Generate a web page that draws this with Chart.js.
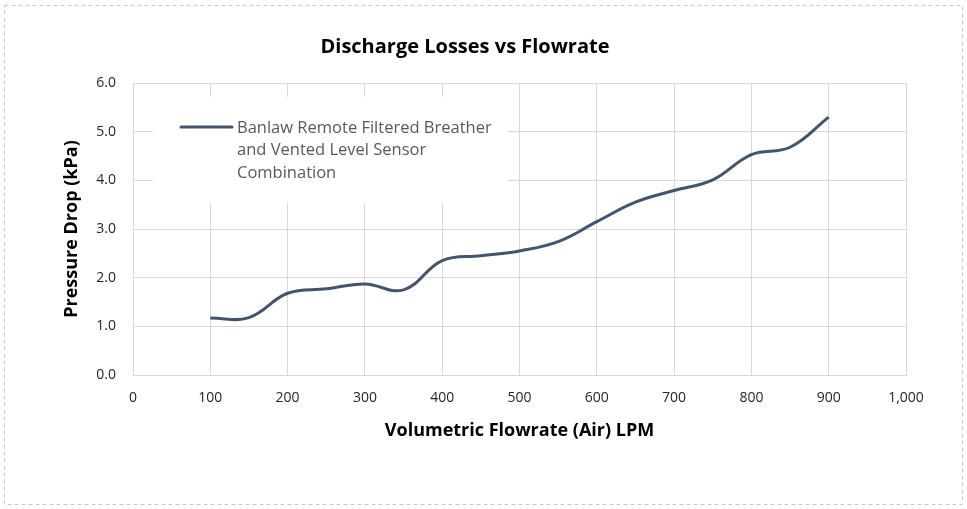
<!DOCTYPE html>
<html>
<head>
<meta charset="utf-8">
<script src="https://cdn.jsdelivr.net/npm/chart.js@4.4.1/dist/chart.umd.min.js"></script>
<style>
  body { margin: 0; background: #fff; }
  #wrap { width: 967px; height: 509px; }
</style>
</head>
<body>
<div id="wrap"><canvas id="chart" width="967" height="509"></canvas></div>
<script>
// chart data
var flowrate = [100, 150, 200, 250, 300, 350, 400, 450, 500, 550, 600, 650, 700, 750, 800, 850, 900];
var pressureDrop = [1.17, 1.18, 1.68, 1.77, 1.87, 1.75, 2.35, 2.45, 2.55, 2.74, 3.15, 3.55, 3.79, 4.01, 4.53, 4.68, 5.30];
var seriesLabelLines = ['Banlaw Remote Filtered Breather', 'and Vented Level Sensor', 'Combination'];
var chartTitle = 'Discharge Losses vs Flowrate';
var xTitle = 'Volumetric Flowrate (Air) LPM';
var yTitle = 'Pressure Drop (kPa)';

var FONT = '"Open Sans", Lato, sans-serif';
var lineColor = '#44546a';
var gridColor = '#d9d9d9';

// outer dashed frame + chart title
var framePlugin = {
  id: 'frame',
  beforeDraw: function (chart) {
    var ctx = chart.ctx;
    ctx.save();
    ctx.fillStyle = '#fff';
    ctx.fillRect(0, 0, chart.width, chart.height);
    ctx.strokeStyle = '#c8c8c8';
    ctx.lineWidth = 1;
    ctx.setLineDash([4, 3]);
    ctx.strokeRect(4.5, 5.5, chart.width - 9, chart.height - 10);
    ctx.restore();
  },
  afterDraw: function (chart) {
    var ctx = chart.ctx;
    ctx.save();
    ctx.font = 'bold 20px ' + FONT;
    ctx.fillStyle = '#000';
    ctx.textAlign = 'center';
    ctx.textBaseline = 'middle';
    ctx.fillText(chartTitle, 465, 47);
    ctx.restore();
  }
};

// legend box sitting inside the plot, covering the grid
var legendPlugin = {
  id: 'boxLegend',
  beforeDatasetsDraw: function (chart) {
    var ctx = chart.ctx;
    var ds = chart.data.datasets[0];
    ctx.save();
    ctx.fillStyle = '#fff';
    ctx.fillRect(153, 97, 355, 106);
    ctx.strokeStyle = ds.borderColor;
    ctx.lineWidth = 3;
    ctx.lineCap = 'round';
    ctx.beginPath();
    ctx.moveTo(181, 127);
    ctx.lineTo(232, 127);
    ctx.stroke();
    ctx.font = '16.5px ' + FONT;
    ctx.fillStyle = '#595959';
    ctx.textBaseline = 'middle';
    seriesLabelLines.forEach(function (t, i) {
      ctx.fillText(t, 237, 128 + i * 22.5);
    });
    ctx.restore();
  }
};

new Chart(document.getElementById('chart'), {
  type: 'line',
  data: {
    datasets: [{
      label: seriesLabelLines.join(' '),
      data: flowrate.map(function (x, i) { return { x: x, y: pressureDrop[i] }; }),
      borderColor: lineColor,
      borderWidth: 3,
      pointRadius: 0,
      tension: 0.4,
      fill: false
    }]
  },
  options: {
    responsive: false,
    animation: false,
    layout: {
      padding: { left: 55, right: 61, top: 83, bottom: 0 }
    },
    plugins: {
      legend: { display: false },
      title: { display: false },
      tooltip: { enabled: false }
    },
    scales: {
      x: {
        type: 'linear',
        min: 0,
        max: 1000,
        afterFit: function (s) { s.height = 134; },
        ticks: {
          stepSize: 100,
          padding: 15,
          color: '#262626',
          font: { family: FONT, size: 14 },
          callback: function (v) { return v.toLocaleString('en-US'); }
        },
        grid: { color: gridColor, drawTicks: false },
        border: { color: gridColor },
        title: {
          display: true,
          text: xTitle,
          color: '#000',
          font: { family: FONT, size: 18, weight: 'bold' },
          padding: { top: 0, bottom: 67 }
        }
      },
      y: {
        min: 0,
        max: 6,
        afterFit: function (s) { s.width = 78; },
        ticks: {
          stepSize: 1,
          padding: 17,
          color: '#262626',
          font: { family: FONT, size: 14 },
          callback: function (v) { return v.toFixed(1); }
        },
        grid: { color: gridColor, drawTicks: false },
        border: { color: gridColor },
        title: {
          display: true,
          text: yTitle,
          color: '#000',
          font: { family: FONT, size: 18, weight: 'bold' },
          padding: { top: 6, bottom: 0 }
        }
      }
    }
  },
  plugins: [framePlugin, legendPlugin]
});
</script>
</body>
</html>
